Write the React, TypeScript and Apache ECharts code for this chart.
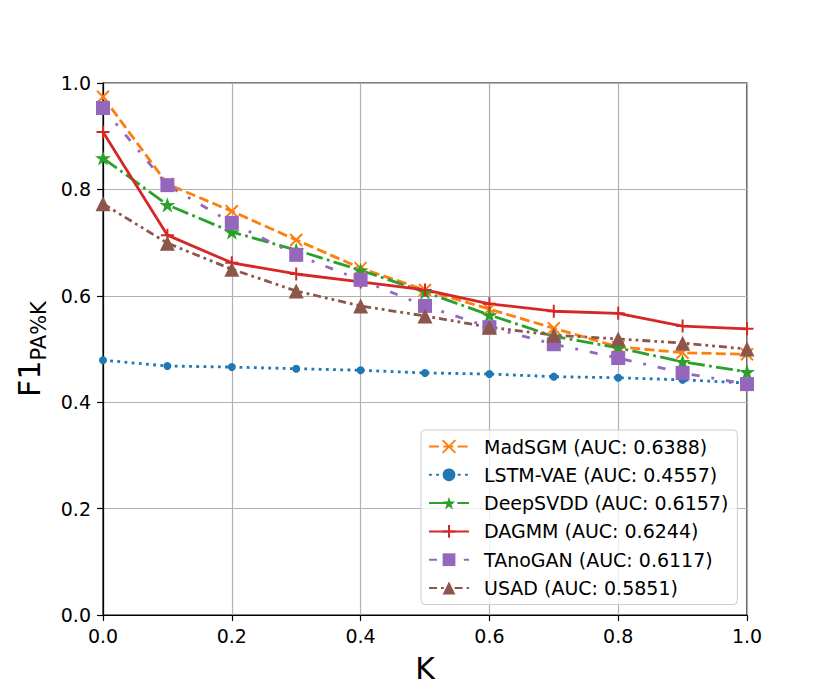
import React, { useEffect, useRef } from "react";
import * as echarts from "echarts";

const kValues = [0.0, 0.1, 0.2, 0.3, 0.4, 0.5, 0.6, 0.7, 0.8, 0.9, 1.0];
const madSGM = [0.974, 0.81, 0.759, 0.705, 0.652, 0.611, 0.575, 0.539, 0.504, 0.493, 0.49];
const lstmVAE = [0.479, 0.468, 0.466, 0.463, 0.46, 0.455, 0.453, 0.448, 0.446, 0.442, 0.436];
const deepSVDD = [0.859, 0.771, 0.72, 0.686, 0.648, 0.607, 0.564, 0.524, 0.502, 0.476, 0.457];
const dagmm = [0.908, 0.714, 0.662, 0.641, 0.626, 0.611, 0.585, 0.571, 0.567, 0.543, 0.538];
const tanoGAN = [0.953, 0.808, 0.737, 0.677, 0.63, 0.581, 0.541, 0.509, 0.483, 0.455, 0.434];
const usad = [0.773, 0.699, 0.65, 0.609, 0.581, 0.562, 0.541, 0.526, 0.519, 0.511, 0.5];
const seriesNames = [
  "MadSGM (AUC: 0.6388)",
  "LSTM-VAE (AUC: 0.4557)",
  "DeepSVDD (AUC: 0.6157)",
  "DAGMM (AUC: 0.6244)",
  "TAnoGAN (AUC: 0.6117)",
  "USAD (AUC: 0.5851)",
];

const FONT = "DejaVu Sans";
const STAR =
  "path://M10,0L12.245,6.91L19.51,6.91L13.63,11.18L15.88,18.09L10,13.82L4.12,18.09L6.37,11.18L0.49,6.91L7.755,6.91Z";
const XMARK = "path://M0,0L10,10M10,0L0,10";
const PLUS = "path://M5,0L5,10M0,5L10,5";

export default function App() {
  const ref = useRef<HTMLDivElement>(null);
  useEffect(() => {
    if (!ref.current) return;
    const chart = echarts.init(ref.current, undefined, { renderer: "svg" });
    const pair = (arr: number[]) => kValues.map((k, i) => [k, arr[i]]);
    const mk = (
      name: string,
      data: number[],
      color: string,
      dash: any,
      symbol: string,
      size: number,
      strokeOnly: boolean
    ) => ({
      name,
      type: "line",
      data: pair(data),
      symbol,
      symbolSize: size,
      symbolKeepAspect: true,
      showSymbol: true,
      lineStyle: { color, width: 2.8, type: dash },
      itemStyle: strokeOnly
        ? { color, borderColor: color, borderWidth: 2 }
        : { color, borderWidth: 0 },
      emphasis: { disabled: true },
    });
    const tickLabel = {
      fontSize: 19,
      color: "#000",
      fontFamily: FONT,
      formatter: (v: number) => v.toFixed(1),
    };
    chart.setOption({
      animation: false,
      backgroundColor: "#ffffff",
      textStyle: { fontFamily: FONT },
      grid: {
        left: 103,
        right: 83,
        top: 83,
        bottom: 77,
        show: true,
        borderColor: "#000",
        borderWidth: 1.2,
        containLabel: false,
      },
      xAxis: {
        type: "value",
        min: 0,
        max: 1,
        interval: 0.2,
        name: "K",
        nameLocation: "middle",
        nameGap: 38,
        nameTextStyle: { fontSize: 30, color: "#000", fontFamily: FONT },
        axisLine: { show: true, lineStyle: { color: "#000", width: 1.2 } },
        axisTick: { show: true, inside: false, length: 6, lineStyle: { color: "#000", width: 1.2 } },
        axisLabel: { ...tickLabel, margin: 11 },
        splitLine: { show: true, lineStyle: { color: "#b0b0b0", width: 1.2 } },
      },
      yAxis: {
        type: "value",
        min: 0,
        max: 1,
        interval: 0.2,
        name: "{a|F1}{b|PA%K}",
        nameLocation: "middle",
        nameRotate: 90,
        nameGap: 52,
        nameTextStyle: {
          color: "#000",
          fontFamily: FONT,
          rich: {
            a: { fontSize: 30, fontFamily: FONT, color: "#000", lineHeight: 40, verticalAlign: "middle" },
            b: { fontSize: 21, fontFamily: FONT, color: "#000", lineHeight: 40, verticalAlign: "bottom" },
          },
        },
        axisLine: { show: true, lineStyle: { color: "#000", width: 1.2 } },
        axisTick: { show: true, inside: false, length: 6, lineStyle: { color: "#000", width: 1.2 } },
        axisLabel: { ...tickLabel, margin: 12 },
        splitLine: { show: true, lineStyle: { color: "#b0b0b0", width: 1.2 } },
      },
      legend: {
        orient: "vertical",
        left: 421,
        top: 430,
        padding: [7, 9, 7, 7],
        itemWidth: 40,
        itemHeight: 16,
        itemGap: 9.3,
        backgroundColor: "rgba(255,255,255,0.8)",
        borderColor: "#cccccc",
        borderWidth: 1,
        borderRadius: 4,
        textStyle: {
          fontSize: 19,
          lineHeight: 19,
          color: "#000",
          fontFamily: FONT,
          padding: [0, 0, 0, 10],
        },
        data: seriesNames,
        selectedMode: false,
      },
      series: [
        mk(seriesNames[0], madSGM, "#ff7f0e", [10, 4.3], XMARK, 12, true),
        mk(seriesNames[1], lstmVAE, "#1f77b4", [2.8, 4.4], "circle", 8, false),
        mk(seriesNames[2], deepSVDD, "#2ca02c", [17, 4.3, 2.8, 4.3], STAR, 16, false),
        mk(seriesNames[3], dagmm, "#d62728", "solid", PLUS, 13, true),
        mk(seriesNames[4], tanoGAN, "#9467bd", [8, 12, 2.8, 12], "rect", 14, false),
        mk(seriesNames[5], usad, "#8c564b", [8, 4, 2.8, 4, 2.8, 4], "triangle", 15, false),
      ],
    });
    return () => chart.dispose();
  }, []);
  return (
    <div
      ref={ref}
      style={{ position: "fixed", left: 0, top: 0, width: 830, height: 692, background: "#fff" }}
    />
  );
}
